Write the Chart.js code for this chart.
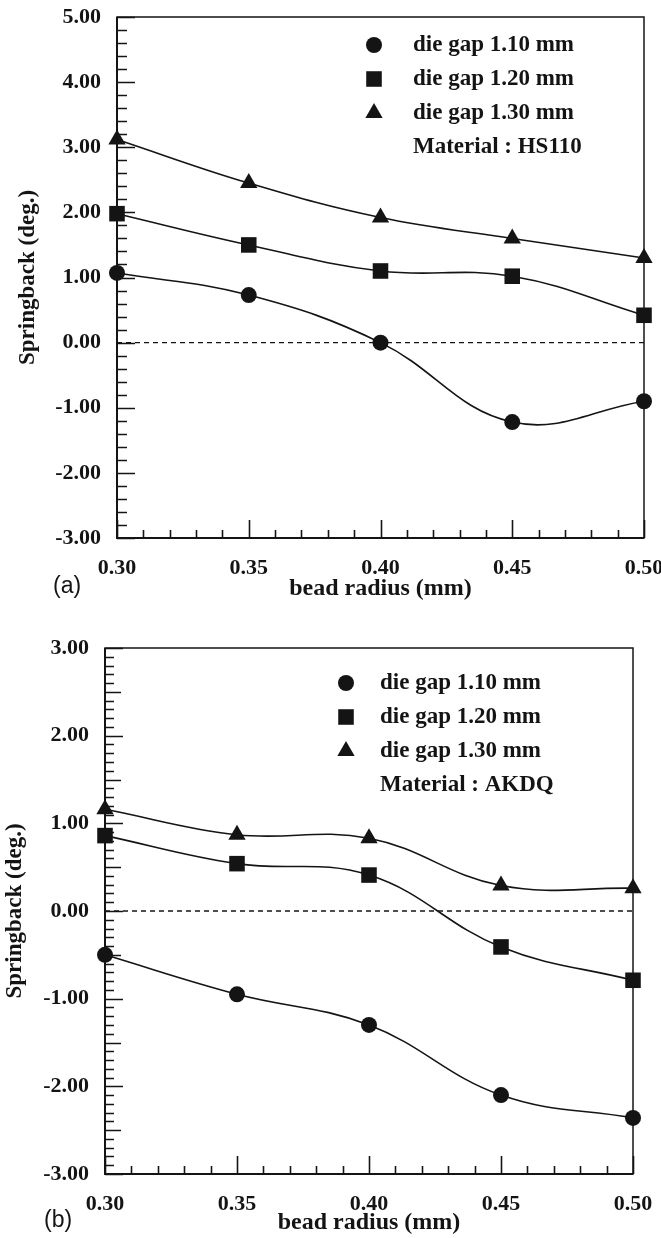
<!DOCTYPE html>
<html lang="en">
<head>
<meta charset="UTF-8">
<title>Springback vs bead radius</title>
<script src="https://cdn.jsdelivr.net/npm/chart.js@4"></script>
<style>
  html, body { margin: 0; padding: 0; background: #fff; }
  #wrap { position: relative; width: 661px; height: 1238px; }
  .panel { position: absolute; left: 0; }
</style>
</head>
<body>
<div id="wrap">
  <canvas id="chartA" class="panel" style="top:0" width="661" height="610"></canvas>
  <canvas id="chartB" class="panel" style="top:610px" width="661" height="628"></canvas>
</div>
<script>
// bead radius (mm) on x
const beadRadius = [0.30, 0.35, 0.40, 0.45, 0.50];
const seriesNames = ['die gap 1.10 mm', 'die gap 1.20 mm', 'die gap 1.30 mm'];

// (a) Material HS110, springback (deg.)
const hs110Gap110 = [1.07, 0.73, 0.00, -1.22, -0.90];
const hs110Gap120 = [1.98, 1.50, 1.10, 1.02, 0.42];
const hs110Gap130 = [3.12, 2.45, 1.92, 1.60, 1.30];

// (b) Material AKDQ
const akdqGap110 = [-0.50, -0.95, -1.30, -2.10, -2.36];
const akdqGap120 = [0.86, 0.54, 0.41, -0.41, -0.79];
const akdqGap130 = [1.16, 0.87, 0.83, 0.29, 0.26];

// tick labels
const xTicks = [0.30, 0.35, 0.40, 0.45, 0.50];
const yTicksA = [5, 4, 3, 2, 1, 0, -1, -2, -3];
const yTicksB = [3, 2, 1, 0, -1, -2, -3];

const serif = '"Liberation Serif", "Times New Roman", serif';
const ink = '#141414';
Chart.defaults.font.family = serif;
Chart.defaults.color = ink;

function drawMarker(ctx, style, r, x, y) {
    ctx.beginPath();
    if (style === 'circle') {
        ctx.arc(x, y, r, 0, Math.PI * 2);
    } else if (style === 'rect') {
        const s = r * Math.SQRT1_2;
        ctx.rect(x - s, y - s, 2 * s, 2 * s);
    } else {
        ctx.moveTo(x, y - r);
        ctx.lineTo(x + r * 0.866, y + r * 0.5);
        ctx.lineTo(x - r * 0.866, y + r * 0.5);
        ctx.closePath();
    }
    ctx.fill();
}

// axis frame with inward ticks
const frame = {
    id: 'frame',
    beforeDatasetsDraw(chart, args, opts) {
        const {ctx, chartArea: a, scales: {x, y}} = chart;
        ctx.save();
        ctx.strokeStyle = ink;
        ctx.lineWidth = 1.5;
        ctx.strokeRect(a.left, a.top, a.right - a.left, a.bottom - a.top);
        ctx.lineWidth = 2;
        ctx.beginPath();
        ctx.moveTo(a.left, a.top);
        ctx.lineTo(a.left, a.bottom);
        ctx.lineTo(a.right, a.bottom);
        ctx.stroke();

        ctx.lineWidth = 1.6;
        ctx.beginPath();
        const nY = Math.round((y.max - y.min) / opts.yStep);
        for (let i = 0; i <= nY; i++) {
            const v = y.min + i * opts.yStep;
            const py = Math.round(y.getPixelForValue(v)) + 0.5;
            let len = opts.minorLen;
            if (Math.abs(v - Math.round(v)) < 1e-6) len = opts.majorLen;
            else if (opts.halfLen && Math.abs(v * 2 - Math.round(v * 2)) < 1e-6) len = opts.halfLen;
            ctx.moveTo(a.left, py);
            ctx.lineTo(a.left + len, py);
        }
        const nX = Math.round((x.max - x.min) / opts.xStep);
        for (let i = 0; i <= nX; i++) {
            const px = Math.round(x.getPixelForValue(x.min + i * opts.xStep)) + 0.5;
            const len = (i % 5 === 0) ? opts.majorLen : opts.xMinorLen;
            ctx.moveTo(px, a.bottom);
            ctx.lineTo(px, a.bottom - len);
        }
        ctx.stroke();
        ctx.restore();
    }
};

// key inside the plot + panel letter
const keyBox = {
    id: 'keyBox',
    afterDraw(chart, args, opts) {
        const {ctx} = chart;
        ctx.save();
        ctx.fillStyle = ink;
        ctx.font = 'bold 23px ' + serif;
        ctx.textBaseline = 'middle';
        chart.data.datasets.filter(d => d.label).forEach((d, i) => {
            const cy = opts.top + i * opts.gap;
            drawMarker(ctx, d.pointStyle, d.pointRadius, opts.markX, cy);
            ctx.fillText(d.label, opts.textX, cy);
        });
        ctx.fillText(opts.note, opts.textX, opts.top + 3 * opts.gap);

        ctx.font = '23px "Liberation Sans", Arial, sans-serif';
        ctx.fillText(opts.letter, opts.letterX, opts.letterY);
        ctx.restore();
    }
};

function makeChart(id, series, yTicks, cfg) {
    const styles = ['circle', 'rect', 'triangle'];
    const radii = [8, 11, 10];
    const datasets = [{
        data: [{x: beadRadius[0], y: 0}, {x: beadRadius[beadRadius.length - 1], y: 0}],
        borderColor: ink,
        borderWidth: 1.3,
        borderDash: [5, 4],
        pointRadius: 0,
        tension: 0
    }];
    series.forEach((vals, i) => {
        datasets.push({
            label: seriesNames[i],
            data: beadRadius.map((r, j) => ({x: r, y: vals[j]})),
            borderColor: ink,
            backgroundColor: ink,
            borderWidth: 1.6,
            pointStyle: styles[i],
            pointRadius: radii[i],
            pointBorderWidth: 0,
            pointBackgroundColor: ink,
            tension: 0.4,
            clip: false
        });
    });

    return new Chart(document.getElementById(id), {
        type: 'line',
        data: {datasets},
        options: {
            responsive: false,
            animation: false,
            layout: {padding: cfg.padding},
            plugins: {
                legend: {display: false},
                tooltip: {enabled: false},
                frame: cfg.frame,
                keyBox: cfg.key
            },
            scales: {
                x: {
                    type: 'linear',
                    min: xTicks[0],
                    max: xTicks[xTicks.length - 1],
                    afterBuildTicks: s => { s.ticks = xTicks.map(v => ({value: v})); },
                    afterFit: s => { s.height = cfg.xHeight; s.paddingLeft = 0; s.paddingRight = 0; },
                    grid: {display: false},
                    border: {display: false},
                    ticks: {
                        callback: v => v.toFixed(2),
                        font: {size: 22, weight: 'bold'},
                        padding: 9,
                        maxRotation: 0,
                        autoSkip: false
                    },
                    title: {
                        display: true,
                        text: 'bead radius (mm)',
                        font: {size: 24, weight: 'bold'},
                        padding: {top: 0, bottom: 0}
                    }
                },
                y: {
                    type: 'linear',
                    min: yTicks[yTicks.length - 1],
                    max: yTicks[0],
                    afterBuildTicks: s => { s.ticks = yTicks.map(v => ({value: v})); },
                    afterFit: s => { s.width = cfg.yWidth; s.paddingTop = 0; s.paddingBottom = 0; },
                    grid: {display: false},
                    border: {display: false},
                    ticks: {
                        callback: v => v.toFixed(2),
                        font: {size: 22, weight: 'bold'},
                        padding: 8
                    },
                    title: {
                        display: true,
                        text: 'Springback (deg.)',
                        font: {size: 23, weight: 'bold'},
                        padding: {top: cfg.yTitlePad, bottom: 0}
                    }
                }
            }
        },
        plugins: [frame, keyBox]
    });
}

makeChart('chartA', [hs110Gap110, hs110Gap120, hs110Gap130], yTicksA, {
    padding: {left: 0, right: 17, top: 17, bottom: 7},
    xHeight: 65,
    yWidth: 117,
    yTitlePad: 14,
    frame: {yStep: 0.2, xStep: 0.01, minorLen: 10, majorLen: 18, halfLen: 0, xMinorLen: 8},
    key: {markX: 374, textX: 413, top: 45, gap: 34, note: 'Material : HS110',
          letter: '(a)', letterX: 53, letterY: 587}
});

makeChart('chartB', [akdqGap110, akdqGap120, akdqGap130], yTicksB, {
    padding: {left: 0, right: 28, top: 38, bottom: 1},
    xHeight: 63,
    yWidth: 105,
    yTitlePad: 1,
    frame: {yStep: 0.1, xStep: 0.01, minorLen: 9, majorLen: 18, halfLen: 16, xMinorLen: 8},
    key: {markX: 346, textX: 380, top: 73, gap: 34, note: 'Material : AKDQ',
          letter: '(b)', letterX: 44, letterY: 611}
});
</script>
</body>
</html>
